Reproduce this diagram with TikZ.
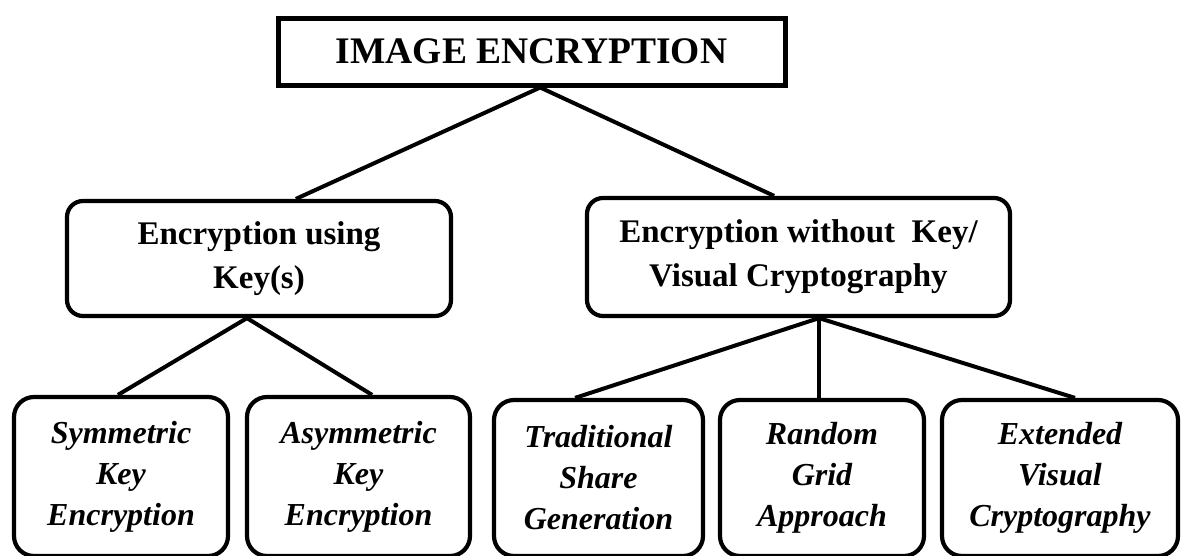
\documentclass[tikz,border=0pt]{standalone}
\usepackage{fontspec}
\setmainfont{Liberation Serif}
\usetikzlibrary{calc}
\tikzset{
  topbox/.style={draw, line width=5pt, inner sep=0pt, font=\fontsize{37.5}{44}\selectfont\bfseries},
  midbox/.style={draw, line width=4.2pt, rounded corners=16pt, inner sep=0pt, align=center, font=\fontsize{33}{44}\selectfont\bfseries},
  leafbox/.style={draw, line width=4.2pt, rounded corners=20pt, inner sep=0pt, align=center, font=\fontsize{32}{41}\selectfont\bfseries\itshape},
  conn/.style={line width=4pt}
}
\begin{document}
\begin{tikzpicture}[x=1pt,y=-1pt]
\useasboundingbox (0,0) rectangle (1189,555);
\clip (0,0) rectangle (1189,555);
\fill[white] (0,0) rectangle (1189,555);

\node[topbox, minimum width=507pt, minimum height=67pt] (top) at (531.5,51.5) {IMAGE ENCRYPTION};

\node[midbox, minimum width=384pt, minimum height=115pt] (L) at (259,258.5) {Encryption using\\Key(s)};
\node[midbox, minimum width=423pt, minimum height=118pt] (R) at (798.5,257) {Encryption without\ \ Key/\\Visual Cryptography};

\node[leafbox, minimum width=214pt, minimum height=159pt] (b1) at (121,476.5) {Symmetric\\Key\\Encryption};
\node[leafbox, minimum width=223pt, minimum height=159pt] (b2) at (358.5,476.5) {Asymmetric\\Key\\Encryption};
\node[leafbox, minimum width=209pt, minimum height=156pt] (b3) at (598.5,478) {Traditional\\Share\\Generation};
\node[leafbox, minimum width=204pt, minimum height=156pt] (b4) at (822,478) {Random\\Grid\\Approach};
\node[leafbox, minimum width=236pt, minimum height=156pt] (b5) at (1060,478) {Extended\\Visual\\Cryptography};

\coordinate (tA) at ($(top.south west)!0.517!(top.south east)$);
\coordinate (lT) at ($(L.north west)!0.595!(L.north east)$);
\coordinate (rT) at ($(R.north west)!0.443!(R.north east)$);
\coordinate (lA) at ($(L.south west)!0.469!(L.south east)$);
\coordinate (rA) at ($(R.south west)!0.548!(R.south east)$);
\coordinate (b1T) at ($(b1.north west)!0.486!(b1.north east)$);
\coordinate (b2T) at ($(b2.north west)!0.56!(b2.north east)$);
\coordinate (b3T) at ($(b3.north west)!0.39!(b3.north east)$);
\coordinate (b4T) at (rA |- b4.north);
\coordinate (b5T) at ($(b5.north west)!0.5625!(b5.north east)$);

\draw[conn] (tA) -- (lT);
\draw[conn] (tA) -- (rT);
\draw[conn] (lA) -- (b1T);
\draw[conn] (lA) -- (b2T);
\draw[conn] (rA) -- (b3T);
\draw[conn] (rA) -- (b4T);
\draw[conn] (rA) -- (b5T);
\end{tikzpicture}
\end{document}
